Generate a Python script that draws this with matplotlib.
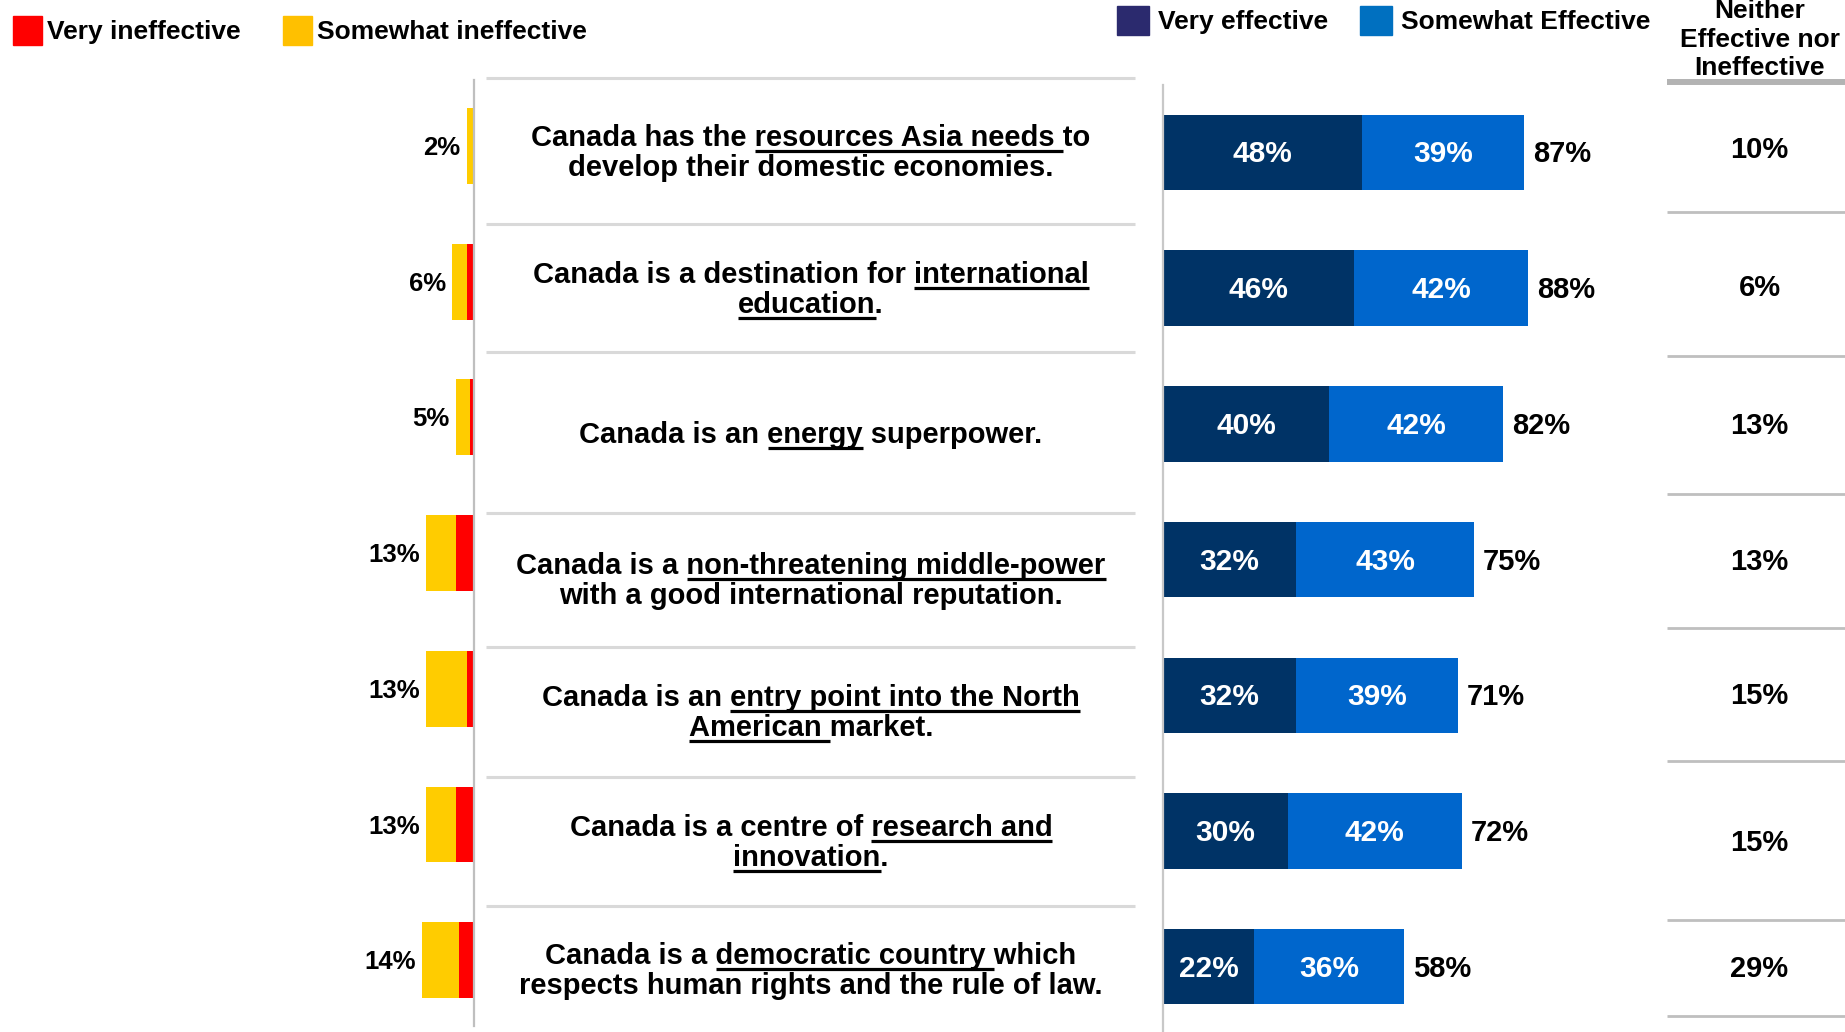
import matplotlib.pyplot as plt
from matplotlib.patches import Patch
from matplotlib.font_manager import FontProperties

# statements, one list of (text, underlined) segments per printed line
statements = [
    [[("Canada has the ", False), ("resources Asia needs ", True), ("to", False)],
     [("develop their domestic economies.", False)]],
    [[("Canada is a destination for ", False), ("international", True)],
     [("education", True), (".", False)]],
    [[("Canada is an ", False), ("energy", True), (" superpower.", False)]],
    [[("Canada is a ", False), ("non-threatening middle-power", True)],
     [("with a good international reputation.", False)]],
    [[("Canada is an ", False), ("entry point into the North", True)],
     [("American ", True), ("market.", False)]],
    [[("Canada is a centre of ", False), ("research and", True)],
     [("innovation", True), (".", False)]],
    [[("Canada is a ", False), ("democratic country ", True), ("which", False)],
     [("respects human rights and the rule of law.", False)]],
]

very_ineffective = [0, 2, 1, 5, 2, 5, 4]
somewhat_ineffective = [2, 4, 4, 8, 11, 8, 10]
very_effective = [48, 46, 40, 32, 32, 30, 22]
somewhat_effective = [39, 42, 42, 43, 39, 42, 36]
neither = [10, 6, 13, 13, 15, 15, 29]

neither_header = ["Neither", "Effective nor", "Ineffective"]

# colours
RED, YELLOW = "#FF0000", "#FFCC00"
NAVY, BLUE = "#003366", "#0066CC"

W, H = 1845, 1032
fig = plt.figure(figsize=(W / 100, H / 100), dpi=100)
fig.patch.set_facecolor("white")


def px_rect(x0, y0, x1, y1):
    return [x0 / W, 1 - y1 / H, (x1 - x0) / W, (y1 - y0) / H]


BOLD = dict(family="Liberation Sans", weight="bold")


def clean(ax):
    ax.set_xticks([])
    ax.set_yticks([])
    for s in ax.spines.values():
        s.set_visible(False)
    ax.patch.set_alpha(0)


rows = list(range(len(very_effective)))

# row grid shared by the effective bars, statements and neither column
ROW0, STEP = 152.5, 135.7


def row_lim(top_px, bottom_px, row0=ROW0):
    return (bottom_px - row0) / STEP, (top_px - row0) / STEP


# --- ineffective bars (grow leftwards) ---
ax_l = fig.add_axes(px_rect(250, 80, 474, 1026))
clean(ax_l)
ax_l.barh(rows, very_ineffective, height=0.56, color=RED)
ax_l.barh(rows, somewhat_ineffective, left=very_ineffective, height=0.56, color=YELLOW)
ax_l.set_xlim(224 / 3.7, 0)
ax_l.set_ylim(*row_lim(80, 1026, row0=146))
ax_l.spines["right"].set_visible(True)
ax_l.spines["right"].set_color("#BFBFBF")
ax_l.spines["right"].set_linewidth(1.6)
for i in rows:
    tot = very_ineffective[i] + somewhat_ineffective[i]
    ax_l.annotate(f"{tot}%", (tot, i), xytext=(-6, -2), textcoords="offset pixels",
                  ha="right", va="center", size=18.5, **BOLD)

# --- statements column ---
ax_m = fig.add_axes(px_rect(474, 85, 1163, 1032))
clean(ax_m)
ax_m.set_xlim(474, 1163)
ax_m.set_ylim(*row_lim(85, 1032))

sep_shift = [-7, 4, -4, 21, 20, 14, 7]
ax_m.hlines([k - 0.5 + s / STEP for k, s in enumerate(sep_shift)], 486, 1135,
            color="#D9D9D9", lw=2.2, clip_on=False)

text_shift = [-2, 0, 9, 19, 16, 10, 2]
prop = FontProperties(family="Liberation Sans", weight="bold", size=21)
renderer = fig.canvas.get_renderer()


def text_w(s):
    return renderer.get_text_width_height_descent(s, prop, ismath=False)[0]


def adv(s):
    return text_w("|" + s + "|") - text_w("||")


CX = 811
for i, lines in enumerate(statements):
    c = i + text_shift[i] / STEP
    if len(lines) == 2:
        baselines = [c - 5 / STEP, c + 25 / STEP]
    else:
        baselines = [c + 10 / STEP]
    for segs, b in zip(lines, baselines):
        full = "".join(s for s, _ in segs)
        ax_m.text(CX, b, full, ha="center", va="baseline", fontproperties=prop)
        left = CX - text_w(full) / 2
        prefix = ""
        for s, under in segs:
            if under:
                x0 = left + adv(prefix)
                x1 = left + adv(prefix + s)
                ax_m.plot([x0, x1], [b + 5 / STEP] * 2, color="black", lw=2.3,
                          solid_capstyle="butt")
            prefix += s

# --- effective bars ---
ax_r = fig.add_axes(px_rect(1163, 85, 1650, 1032))
clean(ax_r)
ax_r.barh(rows, very_effective, height=0.557, color=NAVY)
ax_r.barh(rows, somewhat_effective, left=very_effective, height=0.557, color=BLUE)
ax_r.set_xlim(0, (1650 - 1163) / 4.15)
ax_r.set_ylim(*row_lim(85, 1032))
ax_r.spines["left"].set_visible(True)
ax_r.spines["left"].set_color("#C8C8C8")
ax_r.spines["left"].set_linewidth(1.6)
for i in rows:
    v, s = very_effective[i], somewhat_effective[i]
    ax_r.annotate(f"{v}%", (v / 2, i), xytext=(0, -2), textcoords="offset pixels",
                  ha="center", va="center", color="white", size=21.5, **BOLD)
    ax_r.annotate(f"{s}%", (v + s / 2, i), xytext=(0, -2), textcoords="offset pixels",
                  ha="center", va="center", color="white", size=21.5, **BOLD)
    ax_r.annotate(f"{v + s}%", (v + s, i), xytext=(9, -2), textcoords="offset pixels",
                  ha="left", va="center", size=21, **BOLD)

# --- neither column ---
ax_n = fig.add_axes(px_rect(1667, 85, 1845, 1032))
clean(ax_n)
ax_n.set_xlim(0, 1)
ax_n.set_ylim(*row_lim(85, 1032))
n_shift = [-8, 0, 2, 1, -2, 21, -19]
ax_n.hlines([k + 0.5 + s / STEP for k, s in enumerate(n_shift)], 0, 1,
            color="#BFBFBF", lw=2, clip_on=False)
ax_n.hlines((82 - ROW0) / STEP, 0, 1, color="#B3B3B3", lw=4.3, clip_on=False)
n_text_shift = [-3, 0, 2, 2, 1, 12, 2]
for i in rows:
    ax_n.text(0.52, i + n_text_shift[i] / STEP, f"{neither[i]}%", ha="center",
              va="center", size=21, **BOLD)

for line, b in zip(neither_header, [18, 47, 75]):
    fig.text(1760 / W, 1 - b / H, line, ha="center", va="baseline", size=19, **BOLD)

# --- legends ---
leg_font = dict(family="Liberation Sans", weight="bold", size=19)
fig.legend(handles=[Patch(color="#FF0000"), Patch(color="#FFC000")],
           labels=["Very ineffective", "Somewhat ineffective"],
           loc="upper left", bbox_to_anchor=(13 / W, 1 - 16 / H), ncol=2,
           frameon=False, prop=leg_font, handlelength=1.1, handleheight=1.3,
           handletextpad=0.19, columnspacing=1.62, borderpad=0, borderaxespad=0)
fig.legend(handles=[Patch(color="#2B2A6E"), Patch(color="#0070C0")],
           labels=["Very effective", "Somewhat Effective"],
           loc="upper left", bbox_to_anchor=(1117 / W, 1 - 6 / H), ncol=2,
           frameon=False, prop=leg_font, handlelength=1.21, handleheight=1.3,
           handletextpad=0.34, columnspacing=1.21, borderpad=0, borderaxespad=0)

fig.savefig("out.png", dpi=100, facecolor="white")
